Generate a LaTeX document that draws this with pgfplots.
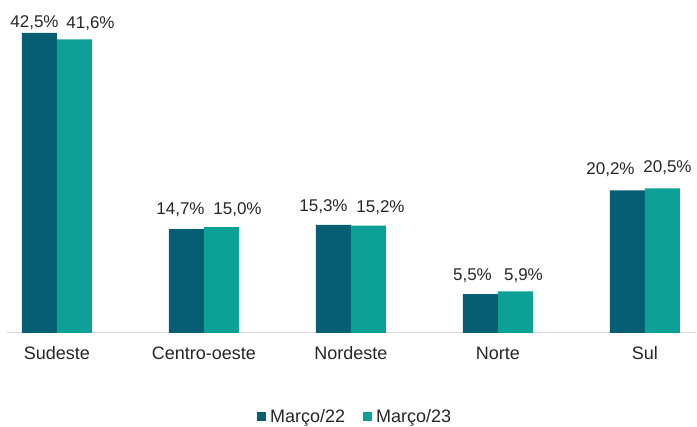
\documentclass[border=0pt]{standalone}
\usepackage{pgfplots}
\usepackage{pgfplotstable}
\pgfplotsset{compat=1.18}
\usepackage{fontspec}
\setmainfont{Liberation Sans}

\definecolor{darkteal}{RGB}{6,94,115}
\definecolor{lightteal}{RGB}{12,160,150}
\definecolor{axisgray}{RGB}{217,217,217}
\definecolor{textgray}{RGB}{38,38,38}

% x = region, y = share (%), dx/dy = label offsets in pt
\pgfplotstableread{
x y    dx  dy
0 42.5 -5  1
1 14.7 -6  10
2 15.3 -10 9
3 5.5  -8  9
4 20.2 -17 12
}\marcoxxii
\pgfplotstableread{
x y    dx  dy
0 41.6 16  6
1 15.0 16  8
2 15.2 12  9
3 5.9  8   6
4 20.5 5   11
}\marcoxxiii

\begin{document}
\begin{tikzpicture}
\path[use as bounding box] (0,0) rectangle (697pt,427pt);
\begin{axis}[
at={(7pt,94pt)}, anchor=south west,
x=147pt, y=7.06pt,
xmin=-0.34, xmax=4.35,
ymin=0, ymax=47,
ybar, bar width=35pt,
axis x line=bottom, axis y line=none,
axis line style={axisgray, line width=1pt, -},
xtick={0,1,2,3,4},
xticklabels={Sudeste,Centro-oeste,Nordeste,Norte,Sul},
xtick style={draw=none},
ytick=\empty,
/pgf/number format/assume math mode=true,
font=\fontsize{18}{21}\selectfont,
xticklabel style={text=textgray, yshift=-8pt},
visualization depends on={\thisrow{dx} \as \dx},
visualization depends on={\thisrow{dy} \as \dy},
nodes near coords={\pgfmathprintnumber[fixed,fixed zerofill,precision=1,use comma]{\pgfplotspointmeta}\%},
every node near coord/.append style={text=textgray, inner sep=2pt,
  font=\fontsize{17}{20}\selectfont, xshift=\dx pt, yshift=\dy pt},
legend style={at={(axis description cs:0.505,-0.252)}, anchor=center, draw=none, fill=none,
  legend columns=2, text=textgray, font=\fontsize{18}{21}\selectfont,
  /tikz/every even column/.append style={column sep=16pt}},
legend image code/.code={\fill[#1] (0pt,-4.5pt) rectangle (9pt,4.5pt); \path (11pt,0pt);},
clip=false,
]
\addplot[fill=darkteal, draw=none, bar shift=-17.5pt] table[x=x, y=y] {\marcoxxii};
\addlegendentry{Março/22}
\addplot[fill=lightteal, draw=none, bar shift=17.5pt] table[x=x, y=y] {\marcoxxiii};
\addlegendentry{Março/23}
\end{axis}
\end{tikzpicture}
\end{document}
